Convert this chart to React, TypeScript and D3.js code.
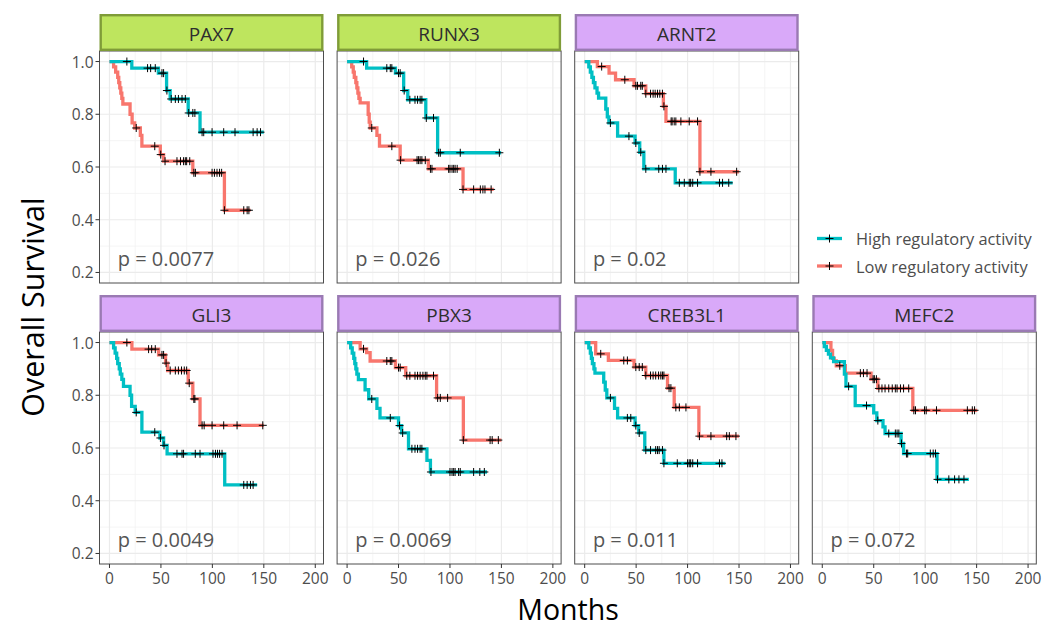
import React from "react";
import * as d3 from "d3";

type Pt = [number, number];

const genes = ["PAX7", "RUNX3", "ARNT2", "GLI3", "PBX3", "CREB3L1", "MEFC2"];
const geneGroup = ["green", "green", "purple", "purple", "purple", "purple", "purple"];
const pValues = ["0.0077", "0.026", "0.02", "0.0049", "0.0069", "0.011", "0.072"];
const xTicks = [0, 50, 100, 150, 200];
const xMinor = [25, 75, 125, 175];
const yTicks = [0.2, 0.4, 0.6, 0.8, 1.0];
const yMinor = [0.3, 0.5, 0.7, 0.9];
const legendLabels = ["High regulatory activity", "Low regulatory activity"];

// ---- PAX7 ----
const pax7HighSteps: Pt[] = [[21.7, 0.975], [47.5, 0.956], [55.5, 0.89], [59, 0.858], [76.5, 0.805], [88, 0.732]];
const pax7HighCens = [16.9, 37, 40, 44.5, 51, 52.6, 55.8, 60, 64, 67, 70.5, 73.7, 77, 81, 83, 90, 91.6, 99.7, 111, 122, 139.6, 143.5, 146.8];
const pax7HighEnd = 150;
const pax7LowSteps: Pt[] = [[4, 0.98], [6, 0.96], [8, 0.94], [9, 0.92], [10, 0.9], [11, 0.88], [12, 0.86], [13, 0.839], [20, 0.8], [22, 0.767], [24.5, 0.748], [30, 0.72], [31.5, 0.679], [49.4, 0.647], [52.6, 0.622], [81, 0.578], [111.7, 0.436]];
const pax7LowCens = [26, 44, 49.8, 54, 65.6, 69, 72, 73.7, 75, 78, 82, 83.5, 99.7, 102, 104.5, 107, 109, 111.7, 130.5, 133.8, 135.5];
const pax7LowEnd = 137;

// ---- RUNX3 ----
const runx3HighSteps: Pt[] = [[19, 0.975], [47, 0.956], [55, 0.89], [59, 0.855], [76.5, 0.786], [88, 0.654]];
const runx3HighCens = [16, 38.6, 42, 43.5, 50, 51.6, 55.5, 61, 66, 68.5, 71, 72.7, 77, 84, 89, 90.6, 110, 148];
const runx3HighEnd = 149.7;
const runx3LowSteps: Pt[] = [[4.5, 0.98], [6, 0.96], [7, 0.94], [8.5, 0.92], [9.5, 0.9], [10.5, 0.88], [11.5, 0.86], [12.7, 0.843], [20.5, 0.8], [21.5, 0.77], [22.5, 0.748], [29, 0.72], [31.5, 0.679], [51.6, 0.626], [79, 0.593], [112.7, 0.515]];
const runx3LowCens = [24, 43.5, 52, 68, 69.5, 71, 72.7, 76, 81, 82.5, 98.7, 100, 102, 103.6, 105, 107, 112.7, 123, 129.5, 132, 134, 140];
const runx3LowEnd = 142.5;

// ---- ARNT2 ----
const arnt2HighSteps: Pt[] = [[4, 0.98], [5.5, 0.96], [7, 0.94], [8.5, 0.92], [10, 0.9], [12, 0.88], [13.5, 0.861], [20.5, 0.82], [22, 0.79], [23.5, 0.767], [32, 0.717], [49, 0.691], [53.5, 0.656], [57.5, 0.593], [88, 0.54]];
const arnt2HighCens = [25, 43, 49.7, 54.5, 59.4, 72, 75.6, 79, 92, 96.8, 101.6, 103, 105, 109.7, 131, 134, 140];
const arnt2HighEnd = 143.8;
const arnt2LowSteps: Pt[] = [[12.3, 0.981], [23.7, 0.956], [30, 0.931], [48, 0.908], [59.4, 0.878], [76.5, 0.83], [79, 0.773], [112, 0.582]];
const arnt2LowCens = [16.5, 39, 49.7, 51.3, 54.5, 56, 59.4, 64, 66.5, 68.5, 70.8, 73, 75.6, 77, 84, 85, 87, 88.6, 93.5, 101.6, 109.7, 112, 122.7, 147.7];
const arnt2LowEnd = 150;

// ---- GLI3 ----
const gli3HighSteps: Pt[] = [[4, 0.98], [5.5, 0.96], [7, 0.94], [8, 0.92], [9.5, 0.9], [10.5, 0.88], [12, 0.86], [13.6, 0.834], [20, 0.8], [21.5, 0.758], [25, 0.735], [31.5, 0.66], [49, 0.638], [52.6, 0.61], [56, 0.578], [112, 0.46]];
const gli3HighCens = [26, 44, 49.5, 53, 65.6, 70.5, 72, 83.4, 88, 100.6, 103, 105, 107, 109.4, 130.5, 133.8, 137, 139.6];
const gli3HighEnd = 143.5;
const gli3LowSteps: Pt[] = [[21.8, 0.975], [47.7, 0.953], [54.5, 0.922], [56.5, 0.894], [76.5, 0.846], [81, 0.786], [88, 0.686]];
const gli3LowCens = [16.9, 38, 41, 44.5, 51, 52.6, 55, 59, 64, 67, 70, 72.7, 75, 77.5, 82, 83, 90, 92, 99.7, 111, 124, 149];
const gli3LowEnd = 150;

// ---- PBX3 ----
const pbx3HighSteps: Pt[] = [[3.5, 0.98], [5, 0.96], [6.5, 0.94], [7.5, 0.92], [8.5, 0.9], [9.5, 0.88], [11, 0.859], [17.5, 0.821], [21, 0.786], [29, 0.75], [32, 0.714], [50, 0.685], [53, 0.657], [59.7, 0.597], [77.6, 0.553], [81, 0.509]];
const pbx3HighCens = [24, 42, 51, 54, 63, 66, 68.5, 71, 72.7, 81.5, 100, 102, 103.6, 105, 108.4, 110, 123, 129, 133.4];
const pbx3HighEnd = 136;
const pbx3LowSteps: Pt[] = [[12.7, 0.976], [19, 0.962], [22.4, 0.93], [47, 0.905], [57, 0.874], [87, 0.79], [113, 0.63]];
const pbx3LowCens = [16, 38.6, 42, 43.5, 50, 51.6, 58, 61, 66, 68.5, 71, 73.7, 76, 77.6, 84, 88, 90.6, 97.7, 113, 139, 141, 147];
const pbx3LowEnd = 150;

// ---- CREB3L1 ----
const creb3l1HighSteps: Pt[] = [[4, 0.98], [5.5, 0.96], [6.5, 0.94], [7.5, 0.92], [9, 0.9], [10, 0.884], [18.5, 0.85], [20, 0.82], [21.5, 0.79], [29, 0.75], [32, 0.714], [49, 0.685], [52.5, 0.657], [58.4, 0.592], [77, 0.542]];
const creb3l1HighCens = [25, 41.5, 44.8, 49.7, 53, 59.4, 64, 69, 70.8, 72.4, 75.6, 77, 90, 100, 101.6, 103, 105, 109.7, 131, 133.4];
const creb3l1HighEnd = 136.7;
const creb3l1LowSteps: Pt[] = [[10.7, 0.957], [23, 0.932], [48, 0.907], [59.4, 0.875], [80.5, 0.827], [87, 0.754], [111, 0.645]];
const creb3l1LowCens = [15.6, 38, 41.5, 49.7, 53, 56, 59.4, 64, 66.5, 69, 71.8, 74, 75.6, 77, 82, 83.8, 88.6, 92, 98.4, 111.5, 122.7, 138, 140.6, 147];
const creb3l1LowEnd = 150;

// ---- MEFC2 ----
const mefc2HighSteps: Pt[] = [[2, 0.985], [4, 0.97], [6, 0.956], [8, 0.942], [11, 0.928], [21.5, 0.88], [23, 0.834], [32, 0.761], [50, 0.733], [53, 0.704], [59, 0.68], [61, 0.655], [76.6, 0.617], [79, 0.579], [111.5, 0.481]];
const mefc2HighCens = [25.6, 43, 54, 64.6, 71, 72.7, 74.4, 77, 81.8, 83, 105, 107.8, 110, 112, 123, 128.6, 132.8, 137.7];
const mefc2HighEnd = 142.5;
const mefc2LowSteps: Pt[] = [[8.4, 0.97], [10, 0.94], [11.5, 0.93], [13.6, 0.912], [22.4, 0.884], [47.4, 0.861], [54, 0.826], [88, 0.743]];
const mefc2LowCens = [17, 37, 40, 43.5, 49.4, 50.6, 52.6, 55, 58, 61, 64.6, 68, 71, 72.7, 76, 79, 84, 89, 90.6, 99.4, 101, 111, 141, 145.8, 148];
const mefc2LowEnd = 150.6;

const COL_HIGH = "#00BFC4";
const COL_LOW = "#F8766D";

type Curve = { steps: Pt[]; cens: number[]; end: number };
const panels: { high: Curve; low: Curve }[] = [
  { high: { steps: pax7HighSteps, cens: pax7HighCens, end: pax7HighEnd }, low: { steps: pax7LowSteps, cens: pax7LowCens, end: pax7LowEnd } },
  { high: { steps: runx3HighSteps, cens: runx3HighCens, end: runx3HighEnd }, low: { steps: runx3LowSteps, cens: runx3LowCens, end: runx3LowEnd } },
  { high: { steps: arnt2HighSteps, cens: arnt2HighCens, end: arnt2HighEnd }, low: { steps: arnt2LowSteps, cens: arnt2LowCens, end: arnt2LowEnd } },
  { high: { steps: gli3HighSteps, cens: gli3HighCens, end: gli3HighEnd }, low: { steps: gli3LowSteps, cens: gli3LowCens, end: gli3LowEnd } },
  { high: { steps: pbx3HighSteps, cens: pbx3HighCens, end: pbx3HighEnd }, low: { steps: pbx3LowSteps, cens: pbx3LowCens, end: pbx3LowEnd } },
  { high: { steps: creb3l1HighSteps, cens: creb3l1HighCens, end: creb3l1HighEnd }, low: { steps: creb3l1LowSteps, cens: creb3l1LowCens, end: creb3l1LowEnd } },
  { high: { steps: mefc2HighSteps, cens: mefc2HighCens, end: mefc2HighEnd }, low: { steps: mefc2LowSteps, cens: mefc2LowCens, end: mefc2LowEnd } },
];

const W = 1051;
const H = 628;
const FONT = "'Open Sans', 'Noto Sans', sans-serif";
const PANEL_W = 224;
const COL_X0 = 99.5;
const COL_STEP = 237.6;
const STRIP_TOPS = [14, 295];
const STRIP_H = 37;
const PANEL_H = 232;

function survAt(c: Curve, t: number) {
  let s = 1;
  for (const [st, sv] of c.steps) if (st <= t) s = sv;
  return s;
}

function curvePoints(c: Curve): Pt[] {
  const pts: Pt[] = [[0, 1], ...c.steps];
  pts.push([c.end, c.steps[c.steps.length - 1][1]]);
  return pts;
}

function Panel({ idx }: { idx: number }) {
  const row = idx < 3 ? 0 : 1;
  const col = idx < 3 ? idx : idx - 3;
  const left = COL_X0 + col * COL_STEP;
  const stripTop = STRIP_TOPS[row];
  const top = stripTop + STRIP_H;
  const bottom = top + PANEL_H;
  const x = d3.scaleLinear().domain([-9.7, 208]).range([left, left + PANEL_W]);
  const y = d3.scaleLinear().domain([0.16, 1.04]).range([bottom, top]);
  const line = d3
    .line<Pt>()
    .x((d) => x(d[0]))
    .y((d) => y(d[1]))
    .curve(d3.curveStepAfter);
  const green = geneGroup[idx] === "green";
  const data = panels[idx];
  const cross = 4;
  const order: [Curve, string][] = [
    [data.low, COL_LOW],
    [data.high, COL_HIGH],
  ];
  return (
    <g>
      <rect x={left} y={top} width={PANEL_W} height={PANEL_H} fill="#fff" />
      {xMinor.map((v) => (
        <line key={"xm" + v} x1={x(v)} x2={x(v)} y1={top} y2={bottom} stroke="#f3f3f3" strokeWidth={0.8} />
      ))}
      {yMinor.map((v) => (
        <line key={"ym" + v} x1={left} x2={left + PANEL_W} y1={y(v)} y2={y(v)} stroke="#f3f3f3" strokeWidth={0.8} />
      ))}
      {xTicks.map((v) => (
        <line key={"xg" + v} x1={x(v)} x2={x(v)} y1={top} y2={bottom} stroke="#ebebeb" strokeWidth={1.2} />
      ))}
      {yTicks.map((v) => (
        <line key={"yg" + v} x1={left} x2={left + PANEL_W} y1={y(v)} y2={y(v)} stroke="#ebebeb" strokeWidth={1.2} />
      ))}
      {order.map(([c, color], k) => (
        <path key={"c" + k} d={line(curvePoints(c)) || ""} fill="none" stroke={color} strokeWidth={3.3} />
      ))}
      {order.map(([c], k) =>
        c.cens.map((t, j) => {
          const cx = x(t);
          const cy = y(survAt(c, t));
          return (
            <path
              key={"m" + k + "-" + j}
              d={`M${cx - cross},${cy}H${cx + cross}M${cx},${cy - cross}V${cy + cross}`}
              stroke="#000"
              strokeWidth={1}
              fill="none"
            />
          );
        })
      )}
      <text x={x(8)} y={y(0.225)} fontFamily={FONT} fontSize={20} fill="#555">
        {"p = " + pValues[idx]}
      </text>
      <rect x={left} y={top} width={PANEL_W} height={PANEL_H} fill="none" stroke="#4d4d4d" strokeWidth={1} />
      <rect
        x={left + 1.2}
        y={stripTop + 1.2}
        width={PANEL_W - 2.4}
        height={STRIP_H - 2.4}
        fill={green ? "#BEE55E" : "#D9A9F9"}
        stroke={green ? "#7F9C38" : "#9A7AB3"}
        strokeWidth={2.4}
      />
      <text
        x={left + PANEL_W / 2}
        y={stripTop + STRIP_H / 2 + 1}
        textAnchor="middle"
        dominantBaseline="central"
        fontFamily={FONT}
        fontSize={19}
        fill="#2e2e2e"
      >
        {genes[idx]}
      </text>
      {col === 0 &&
        yTicks.map((v) => (
          <g key={"yt" + v}>
            <line x1={left - 4} x2={left} y1={y(v)} y2={y(v)} stroke="#333" strokeWidth={1} />
            <text x={left - 6} y={y(v)} textAnchor="end" dominantBaseline="central" fontFamily={FONT} fontSize={15.5} fill="#4d4d4d">
              {v.toFixed(1)}
            </text>
          </g>
        ))}
      {row === 1 &&
        xTicks.map((v) => (
          <g key={"xt" + v}>
            <line x1={x(v)} x2={x(v)} y1={bottom} y2={bottom + 4} stroke="#333" strokeWidth={1} />
            <text x={x(v)} y={bottom + 14.3} textAnchor="middle" dominantBaseline="central" fontFamily={FONT} fontSize={15.5} fill="#4d4d4d">
              {v}
            </text>
          </g>
        ))}
    </g>
  );
}

export default function App() {
  const legendX = 817;
  const legendYs = [238.5, 266];
  const legendColors = [COL_HIGH, COL_LOW];
  return (
    <svg width={W} height={H} style={{ position: "absolute", left: 0, top: 0, background: "#fff" }}>
      <rect x={0} y={0} width={W} height={H} fill="#fff" />
      {genes.map((g, i) => (
        <Panel key={g} idx={i} />
      ))}
      {legendLabels.map((lab, i) => (
        <g key={lab}>
          <line x1={legendX} x2={legendX + 25} y1={legendYs[i]} y2={legendYs[i]} stroke={legendColors[i]} strokeWidth={3.3} />
          <path
            d={`M${legendX + 8.5},${legendYs[i]}H${legendX + 16.5}M${legendX + 12.5},${legendYs[i] - 4}V${legendYs[i] + 4}`}
            stroke="#000"
            strokeWidth={1}
          />
          <text x={legendX + 39} y={legendYs[i]} dominantBaseline="central" fontFamily={FONT} fontSize={16.4} fill="#4d4d4d">
            {lab}
          </text>
        </g>
      ))}
      <text x={568} y={619.5} textAnchor="middle" fontFamily={FONT} fontSize={28.5} fill="#000">
        Months
      </text>
      <text
        transform="translate(32,307) rotate(-90)"
        textAnchor="middle"
        dominantBaseline="central"
        fontFamily={FONT}
        fontSize={30.5}
        fill="#000"
      >
        Overall Survival
      </text>
    </svg>
  );
}
